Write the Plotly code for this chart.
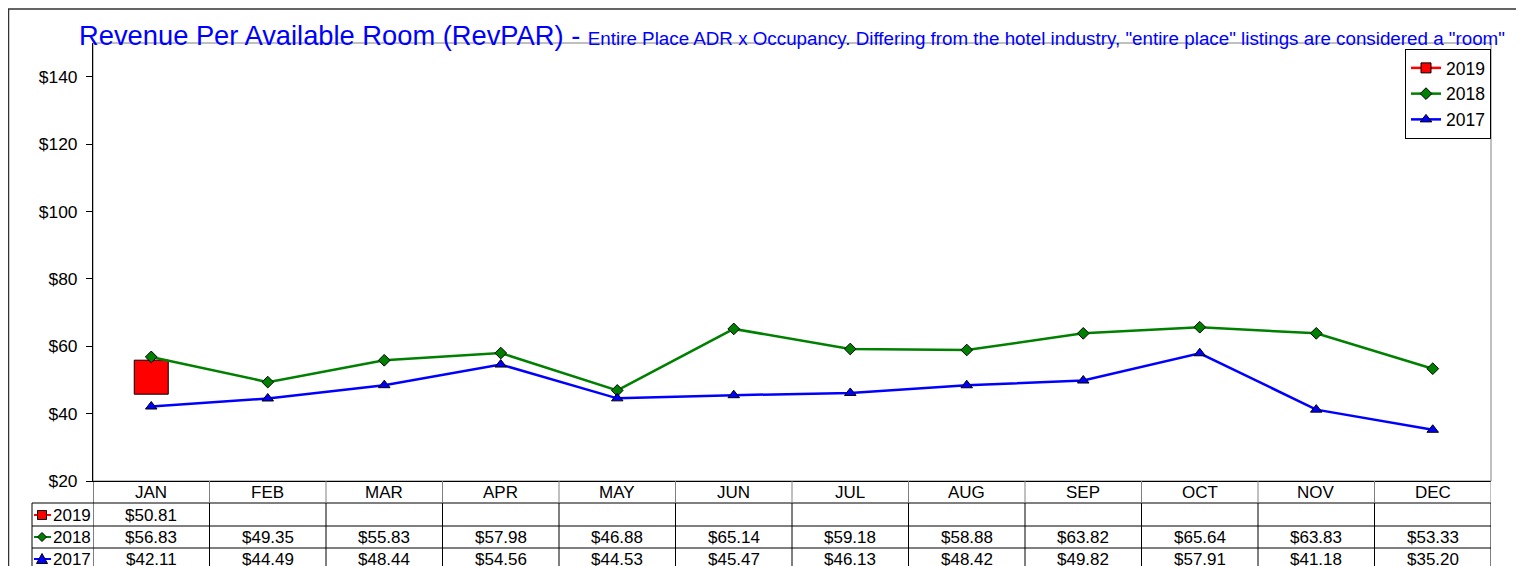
"""RevPAR by month: 2017-2019 lines with an Excel-style data table underneath."""

import plotly.graph_objects as go

MONTHS = ["JAN", "FEB", "MAR", "APR", "MAY", "JUN", "JUL", "AUG", "SEP", "OCT", "NOV", "DEC"]
REV_2019 = [50.81]
REV_2018 = [56.83, 49.35, 55.83, 57.98, 46.88, 65.14, 59.18, 58.88, 63.82, 65.64, 63.83, 53.33]
REV_2017 = [42.11, 44.49, 48.44, 54.56, 44.53, 45.47, 46.13, 48.42, 49.82, 57.91, 41.18, 35.20]

W, H = 1524, 566
OFF = 8  # page body margin around the plot div
ML, MT = 85, 35
PW, PH = 1398, 438
MR, MB = W - ML - PW, H - MT - PH
FONT = "Liberation Sans, Arial, sans-serif"


def px(x):  # screen column -> paper x
    return (x - OFF - ML) / PW


def py(y):  # screen row -> paper y
    return (MT + PH - (y - OFF)) / PH


SERIES = [
    ("2019", MONTHS[:len(REV_2019)], REV_2019, "#FF0000", "square", 34),
    ("2018", MONTHS, REV_2018, "#008000", "diamond", 9),
    ("2017", MONTHS, REV_2017, "#0000FF", "triangle-up", 10),
]

fig = go.Figure()
for rank, (name, xs, ys, color, sym, size) in enumerate(SERIES):
    big = size > 16
    fig.add_trace(go.Scatter(
        x=xs, y=ys, name=name, mode="lines+markers", showlegend=not big, legendrank=rank,
        line=dict(color=color, width=2.5),
        marker=dict(symbol=sym, size=size, color=color, line=dict(color="black", width=1)),
    ))
    if big:  # legend entry with a small key like the original
        fig.add_trace(go.Scatter(
            x=[None], y=[None], name=name, mode="lines+markers", legendrank=rank,
            line=dict(color=color, width=2.5),
            marker=dict(symbol=sym, size=10, color=color, line=dict(color="black", width=1)),
        ))

shapes = []
annos = []
cell_font = dict(size=17, color="black", family=FONT)

# plot frame (grey top/right) and outer chart frame
shapes.append(dict(type="rect", xref="paper", yref="paper", x0=0, x1=1, y0=0, y1=1,
                   line=dict(color="#808080", width=1), layer="below"))
shapes.append(dict(type="rect", xref="paper", yref="paper", x0=px(8.5), x1=px(1518), y0=py(9), y1=py(620),
                   line=dict(color="#333333", width=1.5), layer="below"))

# data table grid
ROW_LINES = [503, 526, 548]
ROW_CENTERS = [515, 537, 559]
for yl in ROW_LINES:
    shapes.append(dict(type="line", xref="paper", yref="paper", x0=px(32), x1=1, y0=py(yl), y1=py(yl),
                       line=dict(color="black", width=1)))
shapes.append(dict(type="line", xref="paper", yref="paper", x0=px(32), x1=px(32), y0=py(503), y1=py(620),
                   line=dict(color="black", width=1)))
for i in range(len(MONTHS) + 1):
    xb = i - 0.5
    shapes.append(dict(type="line", xref="x", yref="paper", x0=xb, x1=xb, y0=0, y1=py(503),
                       line=dict(color="black" if i == 0 else "#808080", width=1)))
    shapes.append(dict(type="line", xref="x", yref="paper", x0=xb, x1=xb, y0=py(503), y1=py(620),
                       line=dict(color="black", width=1)))

# header row
for m in MONTHS:
    annos.append(dict(x=m, xref="x", y=py(492.5), yref="paper", text=m, showarrow=False,
                      xanchor="center", yanchor="middle", font=cell_font))

# table cells and row labels
for (name, xs, ys, color, sym, _), yc in zip(SERIES, ROW_CENTERS):
    for m, v in zip(xs, ys):
        annos.append(dict(x=m, xref="x", y=py(yc), yref="paper", text=f"${v:.2f}", showarrow=False,
                          xanchor="center", yanchor="middle", font=cell_font))
    annos.append(dict(x=px(51), xref="paper", y=py(yc), yref="paper", text=name, showarrow=False,
                      xanchor="left", yanchor="middle", font=cell_font))
    # legend key: short line + small marker
    shapes.append(dict(type="line", xref="paper", yref="paper", x0=px(34), x1=px(51), y0=py(yc), y1=py(yc),
                       line=dict(color=color, width=2)))
    cx, cy, r = 42, yc, 4.5
    if sym == "square":
        path = (f"M{px(cx - r)},{py(cy - r)} L{px(cx + r)},{py(cy - r)} "
                f"L{px(cx + r)},{py(cy + r)} L{px(cx - r)},{py(cy + r)} Z")
    elif sym == "diamond":
        path = (f"M{px(cx)},{py(cy - r)} L{px(cx + r)},{py(cy)} "
                f"L{px(cx)},{py(cy + r)} L{px(cx - r)},{py(cy)} Z")
    else:
        path = f"M{px(cx)},{py(cy - r - 1)} L{px(cx + r + 1)},{py(cy + r)} L{px(cx - r - 1)},{py(cy + r)} Z"
    shapes.append(dict(type="path", xref="paper", yref="paper", path=path, fillcolor=color,
                       line=dict(color="black", width=1)))

fig.update_layout(
    width=W, height=H,
    margin=dict(l=ML, r=MR, t=MT, b=MB),
    paper_bgcolor="white", plot_bgcolor="white",
    font=dict(family=FONT, size=17, color="black"),
    title=dict(
        text="Revenue Per Available Room (RevPAR) - <span style='font-size:18.8px'>Entire Place ADR x Occupancy. "
             "Differing from the hotel industry, \"entire place\" listings are considered a \"room\"</span>",
        font=dict(size=27.3, color="#0000FF", family=FONT),
        x=0.5, xref="paper", xanchor="center", y=1 - 27.5 / H, yref="container", yanchor="middle",
    ),
    showlegend=True,
    legend=dict(x=1, xanchor="right", y=py(49), yanchor="top", bgcolor="white",
                bordercolor="black", borderwidth=1, font=dict(size=17.5), itemwidth=30,
                tracegroupgap=2),
    shapes=shapes, annotations=annos,
)
fig.update_xaxes(type="category", categoryorder="array", categoryarray=MONTHS,
                 range=[-0.5, len(MONTHS) - 0.5], showline=True, linecolor="black", linewidth=1,
                 showgrid=False, ticks="", showticklabels=False, zeroline=False)
fig.update_yaxes(range=[20, 150], dtick=20, tick0=20, tickprefix="$", showline=True, linecolor="black",
                 linewidth=1, showgrid=False, ticks="outside", ticklen=6, tickcolor="black",
                 tickfont=dict(size=17.4), ticklabelstandoff=5, zeroline=False)

fig.write_html("out.html")
